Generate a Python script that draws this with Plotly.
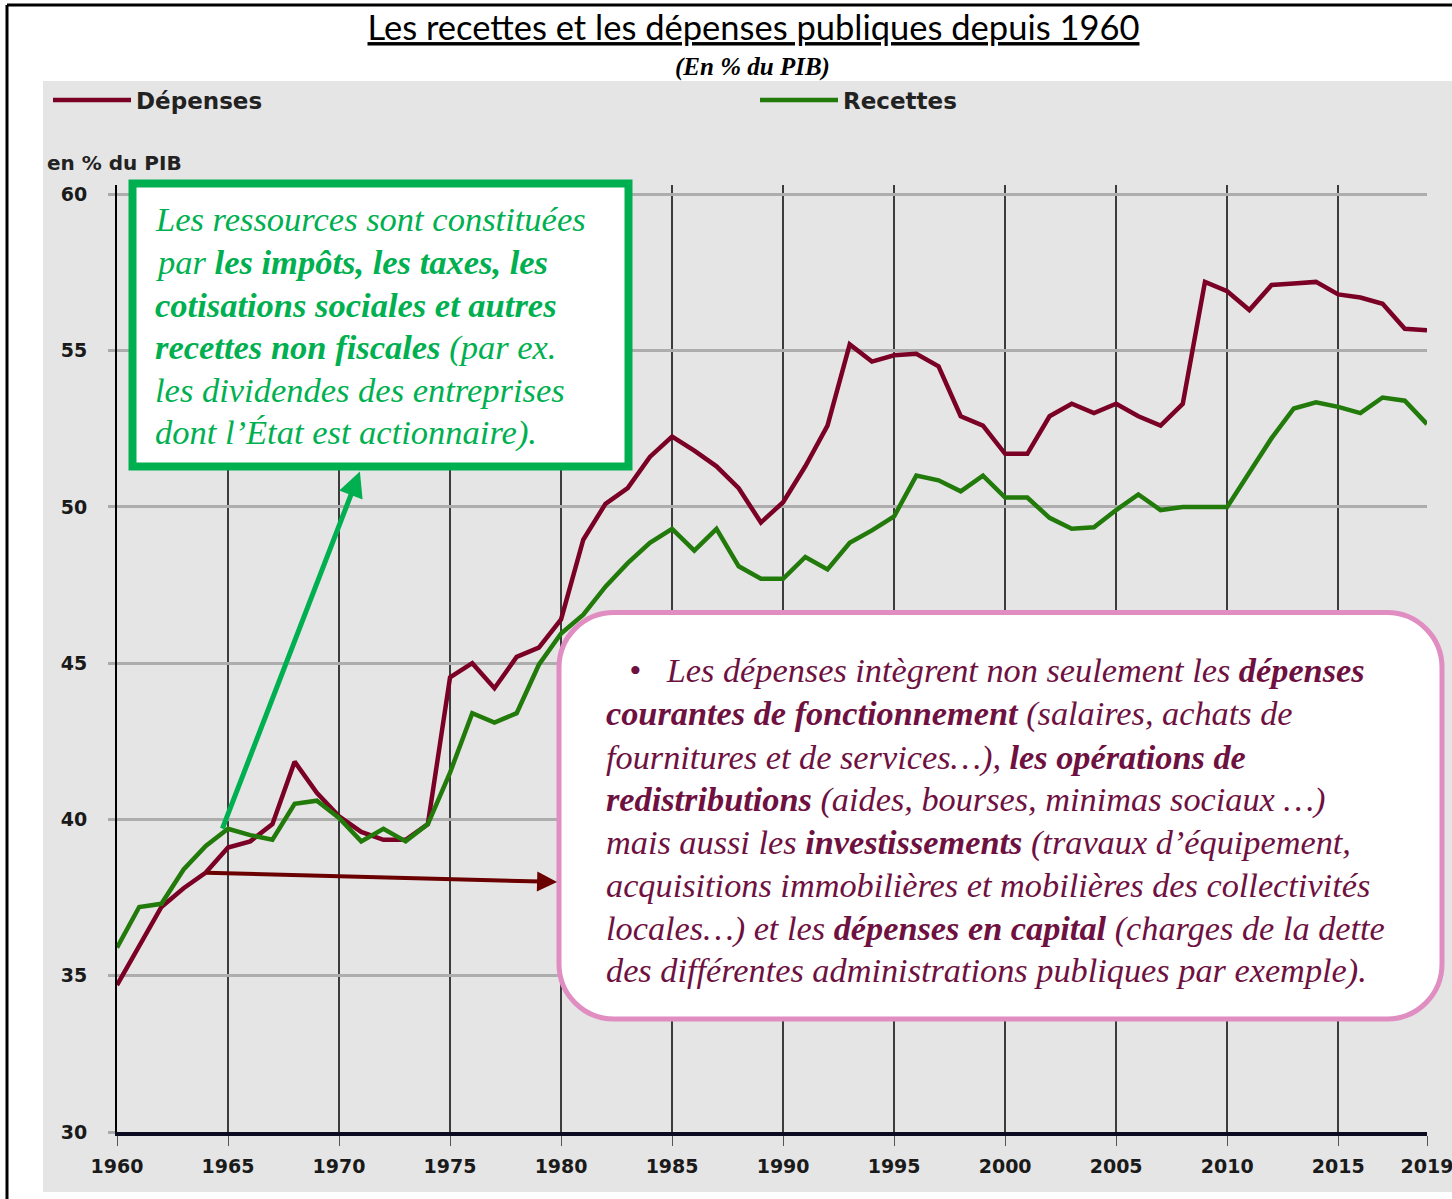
import plotly.graph_objects as go

# ---------------- data ----------------
years = list(range(1960, 2020))
depenses = [34.7, 35.95, 37.2, 37.8, 38.3, 39.1, 39.3, 39.85, 41.85, 40.85,
            40.1, 39.6, 39.35, 39.35, 39.85, 44.55, 45.0, 44.2, 45.2, 45.5,
            46.4, 48.95, 50.1, 50.6, 51.6, 52.25, 51.8, 51.3, 50.6, 49.5,
            50.15, 51.3, 52.6, 55.2, 54.65, 54.85, 54.9, 54.5, 52.9, 52.6,
            51.7, 51.7, 52.9, 53.3, 53.0, 53.3, 52.9, 52.6, 53.3, 57.2,
            56.9, 56.3, 57.1, 57.15, 57.2, 56.8, 56.7, 56.5, 55.7, 55.65]
recettes = [35.9, 37.2, 37.3, 38.4, 39.15, 39.7, 39.5, 39.35, 40.5, 40.6,
            40.05, 39.3, 39.7, 39.3, 39.85, 41.5, 43.4, 43.1, 43.4, 44.95,
            45.95, 46.55, 47.45, 48.2, 48.85, 49.3, 48.6, 49.3, 48.1, 47.7,
            47.7, 48.4, 48.0, 48.85, 49.25, 49.7, 51.0, 50.85, 50.5, 51.0,
            50.3, 50.3, 49.65, 49.3, 49.35, 49.9, 50.4, 49.9, 50.0, 50.0,
            50.0, 51.1, 52.2, 53.15, 53.35, 53.2, 53.0, 53.5, 53.4, 52.65]
x_tickvals = [1960, 1965, 1970, 1975, 1980, 1985, 1990, 1995, 2000, 2005, 2010, 2015, 2019]
x_ticktext = [str(v) for v in x_tickvals]
y_tickvals = [30, 35, 40, 45, 50, 55, 60]
y_ticktext = [str(v) for v in y_tickvals]

title_text = "Les recettes et les dépenses publiques depuis 1960"
subtitle_text = "(En % du PIB)"
unit_text = "en % du PIB"

green_lines = [
    "Les ressources sont constituées",
    "par <b>les impôts, les taxes, les</b>",
    "<b>cotisations sociales et autres</b>",
    "<b>recettes non fiscales</b> (par ex.",
    "les dividendes des entreprises",
    "dont l’État est actionnaire).",
]
pink_lines = [
    "•\u00a0\u00a0\u00a0Les dépenses intègrent non seulement les <b>dépenses</b>",
    "<b>courantes de fonctionnement</b> (salaires, achats de",
    "fournitures et de services…), <b>les opérations de</b>",
    "<b>redistributions</b> (aides, bourses, minimas sociaux …)",
    "mais aussi les <b>investissements</b> (travaux d’équipement,",
    "acquisitions immobilières et mobilières des collectivités",
    "locales…) et les <b>dépenses en capital</b> (charges de la dette",
    "des différentes administrations publiques par exemple).",
]

# ---------------- layout geometry ----------------
W, H = 1452, 1199
ML, MR, MT, MB = 117, 25, 185, 67
PW = W - ML - MR
PH = H - MT - MB


def px(x):
    return (x - ML) / PW


def py(y):
    return (H - MB - y) / PH


RED = "#7A0026"
GREEN = "#217A0A"
BOXGREEN = "#00B050"
PINK = "#E08DC2"
PURPLE = "#6E1141"
GRAY_BG = "#E5E5E5"

fig = go.Figure()
fig.add_trace(go.Scatter(x=years, y=depenses, name="Dépenses", mode="lines",
                         line=dict(color=RED, width=4.5), legend="legend"))
fig.add_trace(go.Scatter(x=years, y=recettes, name="Recettes", mode="lines",
                         line=dict(color=GREEN, width=4.5), legend="legend2"))

shapes = []
# gray panel
shapes.append(dict(type="rect", xref="paper", yref="paper",
                   x0=px(43), x1=px(W + 5), y0=py(1192), y1=py(81),
                   fillcolor=GRAY_BG, line=dict(width=0), layer="below"))
# outer frame (top and left)
shapes.append(dict(type="line", xref="paper", yref="paper",
                   x0=px(7), x1=px(W + 5), y0=py(5), y1=py(5),
                   line=dict(color="black", width=3)))
shapes.append(dict(type="line", xref="paper", yref="paper",
                   x0=px(7), x1=px(7), y0=py(5), y1=py(H + 5),
                   line=dict(color="black", width=3)))
# green box
shapes.append(dict(type="rect", xref="paper", yref="paper",
                   x0=px(132.5), x1=px(628.5), y0=py(466.5), y1=py(183.5),
                   fillcolor="white", line=dict(color=BOXGREEN, width=8)))
# pink rounded box
l, r, t, b, rad = 559, 1442, 612.5, 1019, 55
k = 0.5523 * rad


def P(x, y):
    return f"{px(x):.5f},{py(y):.5f}"


path = (f"M {P(l + rad, t)} L {P(r - rad, t)} "
        f"C {P(r - rad + k, t)} {P(r, t + rad - k)} {P(r, t + rad)} "
        f"L {P(r, b - rad)} "
        f"C {P(r, b - rad + k)} {P(r - rad + k, b)} {P(r - rad, b)} "
        f"L {P(l + rad, b)} "
        f"C {P(l + rad - k, b)} {P(l, b - rad + k)} {P(l, b - rad)} "
        f"L {P(l, t + rad)} "
        f"C {P(l, t + rad - k)} {P(l + rad - k, t)} {P(l + rad, t)} Z")
shapes.append(dict(type="path", xref="paper", yref="paper", path=path,
                   fillcolor="white", line=dict(color=PINK, width=5)))

annotations = []
annotations.append(dict(xref="paper", yref="paper", x=px(752), y=py(67),
                        text=f"<b><i>{subtitle_text}</i></b>", showarrow=False,
                        xanchor="center", yanchor="middle",
                        font=dict(family="Liberation Serif", size=25, color="black")))
annotations.append(dict(xref="paper", yref="paper", x=px(45), y=py(163),
                        text=f"<b>{unit_text}</b>", showarrow=False,
                        xanchor="left", yanchor="middle",
                        font=dict(family="DejaVu Sans", size=20, color="#222222")))

g_y = [219, 262, 305, 347, 390, 433]
for txt, yy in zip(green_lines, g_y):
    annotations.append(dict(xref="paper", yref="paper", x=px(153), y=py(yy),
                            text=f"<i>{txt}</i>", showarrow=False,
                            xanchor="left", yanchor="middle",
                            font=dict(family="Liberation Serif", size=34.5, color=BOXGREEN)))

p_y = [670, 713, 757, 799, 842, 885, 928, 970]
for i, (txt, yy) in enumerate(zip(pink_lines, p_y)):
    x0 = 627 if i == 0 else 604
    annotations.append(dict(xref="paper", yref="paper", x=px(x0), y=py(yy),
                            text=f"<i>{txt}</i>", showarrow=False,
                            xanchor="left", yanchor="middle",
                            font=dict(family="Liberation Serif", size=34.3, color=PURPLE)))

# arrows
annotations.append(dict(xref="x", yref="y", axref="x", ayref="y",
                        x=1970.94, y=51.13, ax=1964.72, ay=39.66, text="",
                        showarrow=True, arrowhead=2, arrowsize=1.0, arrowwidth=5,
                        arrowcolor=BOXGREEN, standoff=0, startstandoff=0))
annotations.append(dict(xref="x", yref="y", axref="x", ayref="y",
                        x=1979.82, y=38.0, ax=1963.96, ay=38.30, text="",
                        showarrow=True, arrowhead=2, arrowsize=1.0, arrowwidth=4,
                        arrowcolor="#6B0000", standoff=0, startstandoff=0))

legend_font = dict(family="DejaVu Sans", size=23, color="#222222", weight="bold")
fig.update_layout(
    width=W, height=H, autosize=False,
    margin=dict(l=ML, r=MR, t=MT, b=MB, pad=0, autoexpand=False),
    paper_bgcolor="white", plot_bgcolor=GRAY_BG,
    title=dict(text=f"<u>{title_text}</u>", x=753.5 / W, xref="container",
               xanchor="center", y=1 - 28 / H, yref="container", yanchor="middle",
               font=dict(family="Lato", size=34.5, color="black")),
    showlegend=True,
    legend=dict(orientation="h", xref="container", yref="container",
                x=48 / W, y=1 - 100 / H, xanchor="left", yanchor="middle",
                itemwidth=78, bgcolor="rgba(0,0,0,0)", borderwidth=0,
                font=legend_font),
    legend2=dict(orientation="h", xref="container", yref="container",
                 x=755 / W, y=1 - 100 / H, xanchor="left", yanchor="middle",
                 itemwidth=78, bgcolor="rgba(0,0,0,0)", borderwidth=0,
                 font=legend_font),
    shapes=shapes,
    annotations=annotations,
    xaxis=dict(range=[1960, 2019], tickmode="array", tickvals=x_tickvals, ticktext=x_ticktext,
               showgrid=True, gridcolor="#3C3C3C", gridwidth=1.5,
               showline=True, linecolor="#0B0B22", linewidth=4,
               ticks="outside", ticklen=10, tickwidth=1, tickcolor="#555555",
               ticklabelstandoff=4, ticklabeloverflow="allow", automargin=False,
               tickfont=dict(family="DejaVu Sans", size=19, color="#1A1A1A", weight="bold"),
               zeroline=False, fixedrange=True),
    yaxis=dict(range=[30, 60.3], tickmode="array", tickvals=y_tickvals, ticktext=y_ticktext,
               showgrid=True, gridcolor="#ADADAD", gridwidth=3,
               showline=True, linecolor="black", linewidth=2,
               ticks="outside", ticklen=7, tickwidth=3, tickcolor="#AAAAAA",
               ticklabelstandoff=17, automargin=False,
               tickfont=dict(family="DejaVu Sans", size=19, color="#1A1A1A", weight="bold"),
               zeroline=False, fixedrange=True),
)

fig.write_html("out.html", config={"displayModeBar": False},
               post_script="document.body.style.margin='0';document.body.style.overflow='hidden';")
